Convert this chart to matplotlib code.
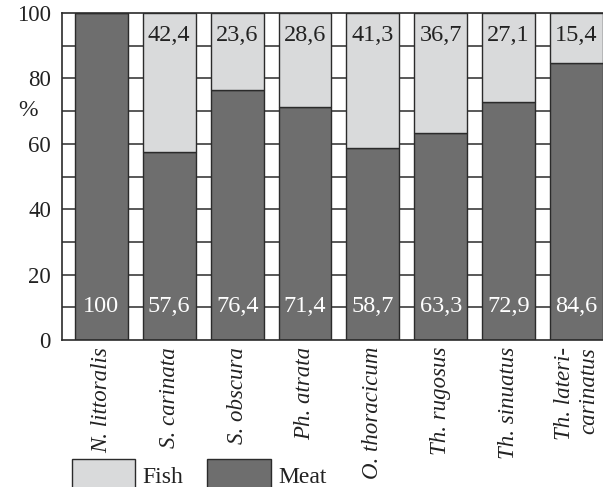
import numpy as np
import matplotlib.pyplot as plt
from matplotlib.patches import Patch

plt.rcParams['font.family'] = ['Liberation Serif', 'DejaVu Serif']

# -----------------------------
# Diet composition, %
# -----------------------------
species = ["N. littoralis", "S. carinata", "S. obscura", "Ph. atrata",
           "O. thoracicum", "Th. rugosus", "Th. sinuatus", "Th. lateri-\ncarinatus"]
meat = [100, 57.6, 76.4, 71.4, 58.7, 63.3, 72.9, 84.6]
fish = [0, 42.4, 23.6, 28.6, 41.3, 36.7, 27.1, 15.4]

c_meat = "#6e6e6e"
c_fish = "#d9dadb"
c_line = "#2b2b2b"

fig = plt.figure(figsize=(6.03, 4.87), dpi=100)
ax = fig.add_axes([62/603, 1 - 340/487, 1 - 62/603, 327/487])

x = np.arange(len(species))
w = 0.78

# horizontal lines every 10 %, behind the bars
for yv in range(10, 100, 10):
    ax.axhline(yv, color=c_line, lw=1.1, zorder=0)

ax.bar(x, meat, w, color=c_meat, edgecolor=c_line, lw=1.0, zorder=2)
ax.bar(x, fish, w, bottom=meat, color=c_fish, edgecolor=c_line, lw=1.0, zorder=2)

def fmt(v):
    s = f"{v:.1f}".replace(".", ",")
    return s[:-2] if s.endswith(",0") else s

for xi, m, f in zip(x, meat, fish):
    ax.text(xi, 10.3, fmt(m), ha='center', va='center', color='white',
            fontsize=17.5, zorder=3)
    if f > 0:
        ax.text(xi, 93.0, fmt(f), ha='center', va='center', color='#222222',
                fontsize=17.5, zorder=3)

ax.set_xlim(-0.58, 7.39)
ax.set_ylim(0, 100)
ax.set_yticks(range(0, 101, 20))
ax.tick_params(axis='y', length=0, pad=8, labelsize=16.5, labelcolor='#222222')
ax.tick_params(axis='x', length=0, pad=5)
ax.set_xticks(x)
ax.set_xticklabels(species, rotation=90, style='italic', fontsize=16.5,
                   ha='center', va='top', multialignment='right', color='#222222')

for side in ['left', 'bottom', 'top']:
    ax.spines[side].set_color(c_line)
    ax.spines[side].set_linewidth(1.2)
ax.spines['right'].set_visible(False)

fig.text(18/603, 1 - 110/487, "%", fontsize=17, color='#222222',
         ha='left', va='center')

handles = [Patch(facecolor=c_fish, edgecolor=c_line, lw=1.0),
           Patch(facecolor=c_meat, edgecolor=c_line, lw=1.0)]
fig.legend(handles, ["Fish", "Meat"], loc='upper left',
           bbox_to_anchor=(67/603, 1 - 454/487), ncol=2, frameon=False,
           fontsize=17, handlelength=2.7, handleheight=1.8,
           handletextpad=0.3, columnspacing=1.0, borderaxespad=0,
           borderpad=0.2, labelcolor='#222222')

fig.savefig("out.png", dpi=100, facecolor='white')
